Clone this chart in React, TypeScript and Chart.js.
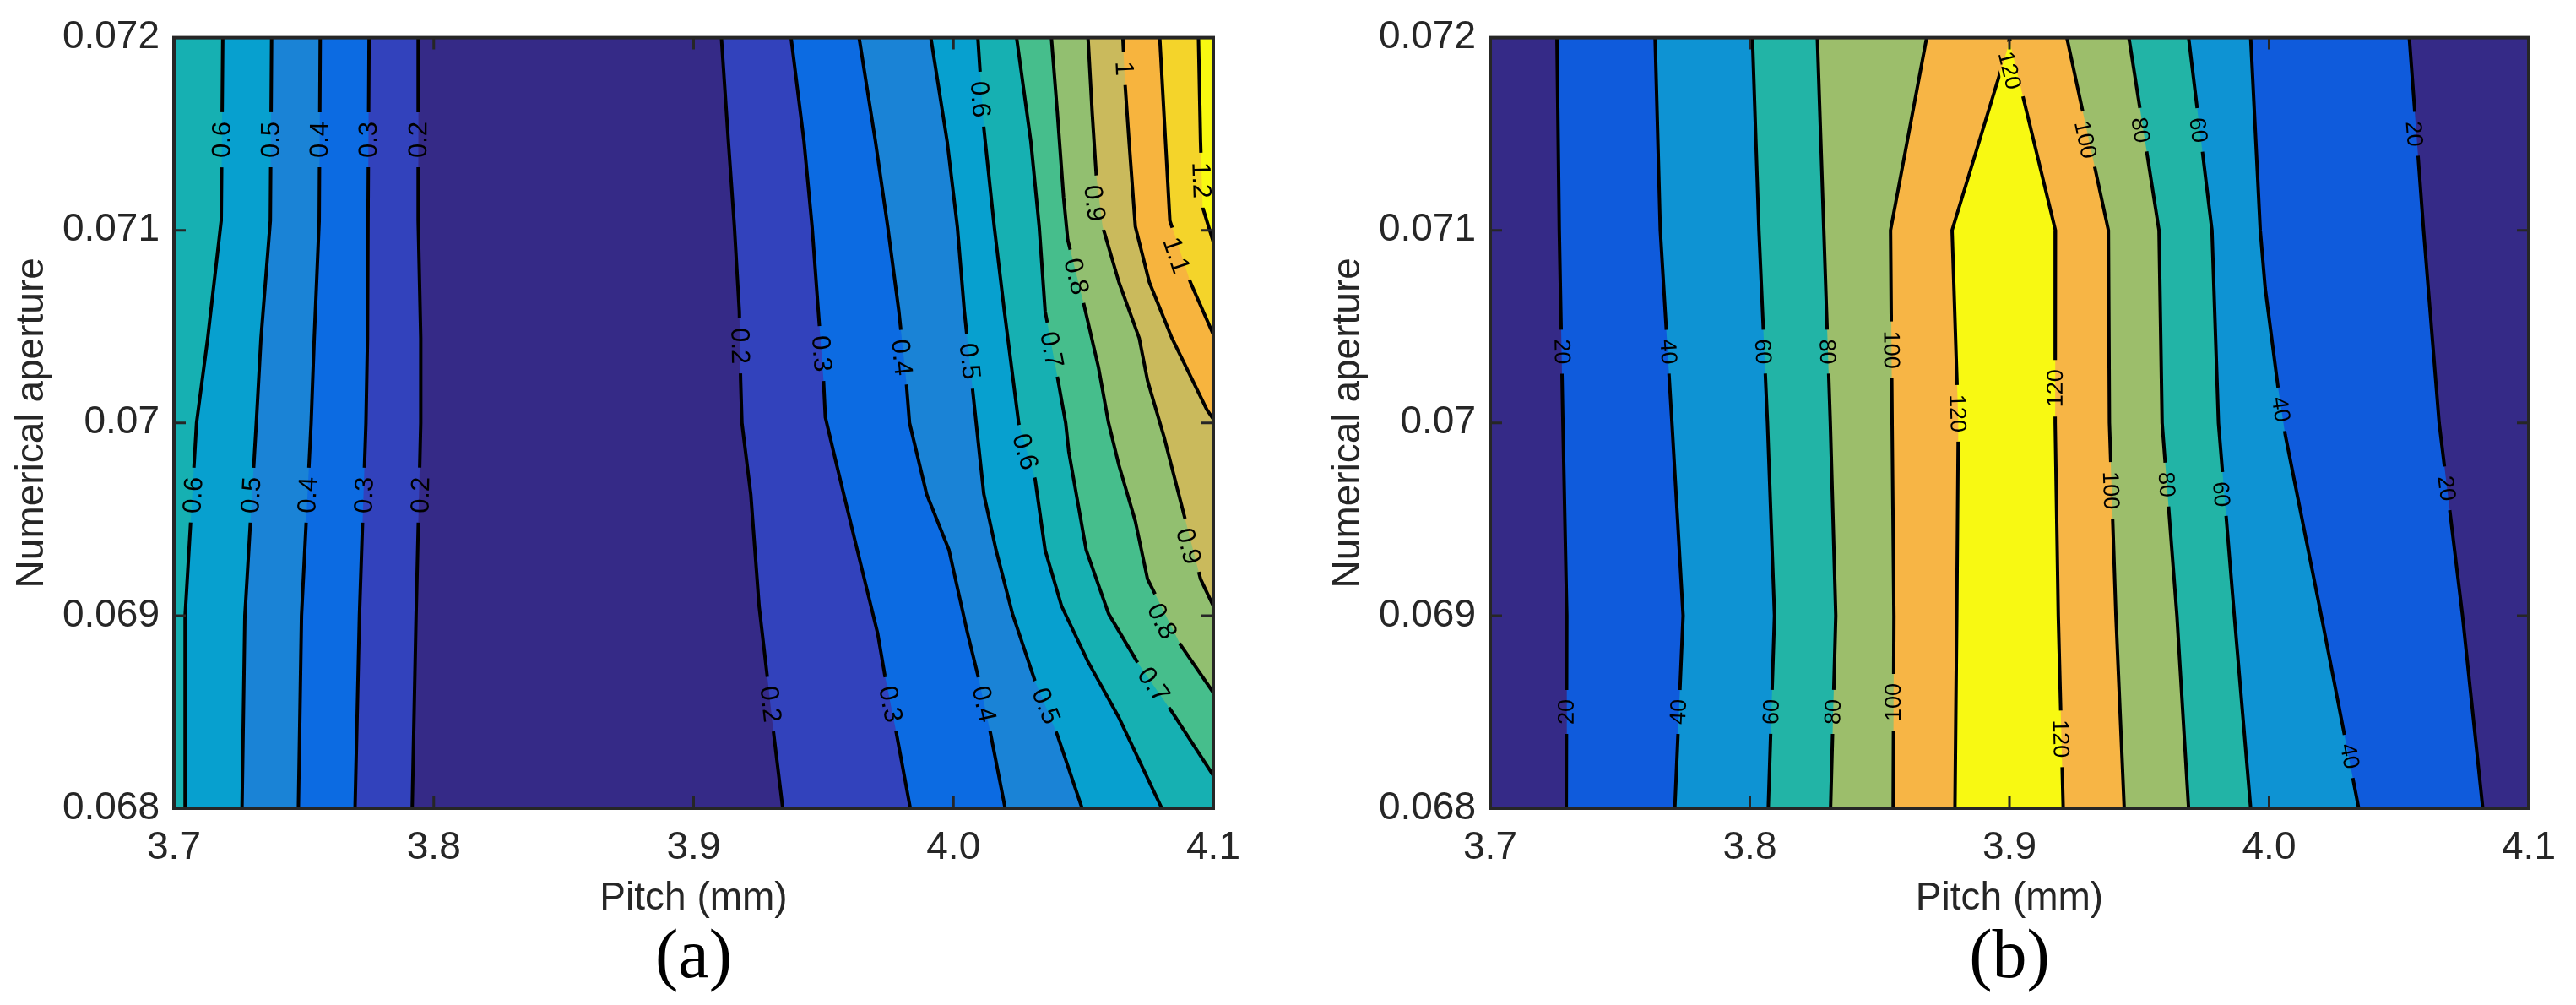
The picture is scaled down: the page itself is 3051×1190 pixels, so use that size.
import React, { useEffect, useRef } from 'react';
import { Chart, registerables } from 'chart.js';

Chart.register(...registerables);

type Pt = [number, number];

// ---------------- axes ----------------
const X_MIN = 3.7;
const X_MAX = 4.1;
const Y_MIN = 0.068;
const Y_MAX = 0.072;
const X_TICKS = [3.7, 3.8, 3.9, 4.0, 4.1];
const X_TICK_TEXT = ['3.7', '3.8', '3.9', '4.0', '4.1'];
const Y_TICKS = [0.068, 0.069, 0.07, 0.071, 0.072];
const Y_TICK_TEXT = ['0.068', '0.069', '0.07', '0.071', '0.072'];
const X_TITLE = 'Pitch (mm)';
const Y_TITLE = 'Numerical aperture';

// ---------------- panel (a) ----------------
const A_LEVELS = ['0.2', '0.3', '0.4', '0.5', '0.6', '0.7', '0.8', '0.9', '1', '1.1', '1.2'];
const A_BANDS = ['#352A87', '#3242BC', '#0C6BE2', '#1A83D6', '#07A0CF', '#16B0B2', '#46BE8C', '#92BF70', '#CABA5C', '#F7B43E', '#F4D42A', '#F8F911'];
// contour lines on the left (value rises toward left edge), top -> bottom
const A_L02: Pt[] = [[3.7942, 0.072], [3.794, 0.07105], [3.795, 0.07044], [3.795, 0.07], [3.7932, 0.069], [3.7917, 0.068]];
const A_L03: Pt[] = [[3.7751, 0.072], [3.7747, 0.07105], [3.7745, 0.07044], [3.7739, 0.07], [3.7714, 0.069], [3.7697, 0.068]];
const A_L04: Pt[] = [[3.7563, 0.072], [3.7559, 0.07105], [3.754, 0.07044], [3.7528, 0.07], [3.7491, 0.069], [3.7479, 0.068]];
const A_L05: Pt[] = [[3.7376, 0.072], [3.7371, 0.07105], [3.7335, 0.07044], [3.7317, 0.07], [3.7273, 0.069], [3.7262, 0.068]];
const A_L06: Pt[] = [[3.7188, 0.072], [3.7182, 0.07105], [3.713, 0.07044], [3.7087, 0.07], [3.7043, 0.069], [3.7043, 0.068]];
// contour lines on the right (value rises toward right edge), top -> bottom/right edge
const A_R02: Pt[] = [[3.9107, 0.072], [3.9134, 0.07146], [3.9157, 0.07102], [3.9176, 0.07058], [3.9181, 0.07022], [3.9186, 0.07], [3.922, 0.06963], [3.9252, 0.06905], [3.9283, 0.06869], [3.9307, 0.0684], [3.9343, 0.068]];
const A_R03: Pt[] = [[3.9375, 0.072], [3.9425, 0.07146], [3.9456, 0.07102], [3.948, 0.07058], [3.95, 0.07022], [3.9507, 0.07003], [3.9551, 0.06978], [3.963, 0.06934], [3.9708, 0.06891], [3.9736, 0.06869], [3.9779, 0.0684], [3.9834, 0.068]];
const A_R04: Pt[] = [[3.9637, 0.072], [3.97, 0.07146], [3.9747, 0.07102], [3.979, 0.07058], [3.9818, 0.07022], [3.9831, 0.07], [3.9897, 0.06963], [3.9983, 0.06934], [4.0054, 0.06891], [4.0094, 0.06869], [4.0141, 0.0684], [4.0199, 0.068]];
const A_R05: Pt[] = [[3.9913, 0.072], [3.9976, 0.07146], [4.0015, 0.07102], [4.0042, 0.07058], [4.007, 0.07022], [4.0117, 0.06963], [4.0164, 0.06934], [4.0227, 0.06901], [4.0314, 0.06866], [4.04, 0.06838], [4.0495, 0.068]];
const A_R06: Pt[] = [[4.0094, 0.072], [4.0117, 0.07153], [4.0157, 0.07102], [4.0196, 0.07058], [4.0251, 0.07], [4.0314, 0.06971], [4.0353, 0.06934], [4.0416, 0.06905], [4.0518, 0.06876], [4.0637, 0.06847], [4.0802, 0.068]];
const A_R07: Pt[] = [[4.0243, 0.072], [4.0298, 0.07146], [4.033, 0.07102], [4.0353, 0.07058], [4.04, 0.07024], [4.0432, 0.07], [4.0444, 0.06985], [4.0511, 0.06934], [4.0597, 0.06901], [4.0707, 0.06876], [4.0841, 0.0685], [4.1, 0.06817]];
const A_R08: Pt[] = [[4.0377, 0.072], [4.04, 0.07161], [4.0424, 0.07117], [4.044, 0.07095], [4.0503, 0.07061], [4.0558, 0.07029], [4.0597, 0.07], [4.0637, 0.06978], [4.07, 0.06949], [4.0747, 0.06919], [4.0873, 0.06885], [4.1, 0.0686]];
const A_R09: Pt[] = [[4.0518, 0.072], [4.0534, 0.07161], [4.055, 0.07128], [4.0574, 0.07102], [4.0637, 0.07073], [4.0715, 0.07044], [4.0747, 0.07022], [4.081, 0.06993], [4.0888, 0.06952], [4.0951, 0.06919], [4.1, 0.06905]];
const A_R10: Pt[] = [[4.0652, 0.072], [4.066, 0.07177], [4.0676, 0.07146], [4.07, 0.07102], [4.0754, 0.07073], [4.0841, 0.07044], [4.0975, 0.07007], [4.1, 0.07002]];
const A_R11: Pt[] = [[4.0794, 0.072], [4.081, 0.07161], [4.0833, 0.07105], [4.0912, 0.07073], [4.1, 0.07046]];
const A_R12: Pt[] = [[4.0943, 0.072], [4.0951, 0.07146], [4.0959, 0.07112], [4.1, 0.07094]];
// contour label anchor points
const A_LABELS: Pt[] = [
  [3.7185, 0.07147], [3.7373, 0.07147], [3.7561, 0.07147], [3.7749, 0.07147], [3.7941, 0.07147],
  [3.7075, 0.069625], [3.7298, 0.069625], [3.7516, 0.069625], [3.7733, 0.069625], [3.795, 0.069625],
  [3.9178, 0.0704], [3.9295, 0.06854], [3.9492, 0.07036], [3.9757, 0.06854],
  [3.98, 0.07034], [4.0117, 0.06854], [4.0062, 0.07032], [4.0355, 0.06853],
  [4.0102, 0.07168], [4.0275, 0.06985], [4.0377, 0.07038], [4.077, 0.06864],
  [4.0472, 0.07076], [4.0802, 0.06897], [4.0542, 0.07114], [4.0904, 0.06936],
  [4.0656, 0.07184], [4.0857, 0.07087], [4.0953, 0.07126],
];

// ---------------- panel (b) ----------------
const B_LEVELS = ['20', '40', '60', '80', '100', '120'];
const B_BANDS = ['#352A87', '#0F5BDC', '#0E93D3', '#22B4A6', '#9CBE6B', '#F7B545', '#F8F912'];
// rising side (left), top -> bottom
const B_L20: Pt[] = [[3.7257, 0.072], [3.7266, 0.071], [3.728, 0.07], [3.7295, 0.069], [3.7293, 0.068]];
const B_L40: Pt[] = [[3.7635, 0.072], [3.7655, 0.071], [3.77, 0.07], [3.7743, 0.069], [3.7711, 0.068]];
const B_L60: Pt[] = [[3.801, 0.072], [3.8035, 0.071], [3.8068, 0.07], [3.8095, 0.069], [3.8071, 0.068]];
const B_L80: Pt[] = [[3.826, 0.072], [3.8285, 0.071], [3.831, 0.07], [3.8331, 0.069], [3.8311, 0.068]];
const B_L100: Pt[] = [[3.8681, 0.072], [3.8542, 0.071], [3.8548, 0.07], [3.8555, 0.069], [3.8552, 0.068]];
// peak contour (bottom-left -> top -> bottom-right)
const B_C120: Pt[] = [[3.879, 0.068], [3.8797, 0.069], [3.8803, 0.07], [3.8779, 0.071], [3.8994, 0.07195], [3.9, 0.072], [3.9006, 0.07195], [3.9177, 0.071], [3.9176, 0.07], [3.9188, 0.069], [3.9207, 0.068]];
// falling side (right), top -> bottom
const B_R100: Pt[] = [[3.9221, 0.072], [3.9381, 0.071], [3.9385, 0.07], [3.941, 0.069], [3.9442, 0.068]];
const B_R80: Pt[] = [[3.946, 0.072], [3.9576, 0.071], [3.9588, 0.07], [3.9645, 0.069], [3.969, 0.068]];
const B_R60: Pt[] = [[3.969, 0.072], [3.978, 0.071], [3.9805, 0.07], [3.9866, 0.069], [3.9929, 0.068]];
const B_R40: Pt[] = [[3.9929, 0.072], [3.9966, 0.071], [3.9985, 0.0707], [4.0035, 0.07018], [4.0062, 0.06994], [4.0201, 0.069], [4.0345, 0.068]];
const B_R20: Pt[] = [[4.054, 0.072], [4.0595, 0.071], [4.0655, 0.07], [4.0745, 0.069], [4.0823, 0.068]];
const B_LABELS: Pt[] = [
  [3.7276, 0.07037], [3.7686, 0.07037], [3.805, 0.07037], [3.8298, 0.07037], [3.8545, 0.07038],
  [3.7294, 0.0685], [3.7725, 0.0685], [3.8083, 0.0685], [3.8321, 0.0685], [3.8553, 0.06855],
  [3.9, 0.07183], [3.88, 0.07005], [3.9177, 0.07018], [3.9197, 0.06836],
  [3.9292, 0.07147], [3.939, 0.06965], [3.9504, 0.07152], [3.9605, 0.06968],
  [3.9727, 0.07152], [3.9815, 0.06963], [4.0045, 0.07007], [4.031, 0.06827],
  [4.0558, 0.0715], [4.0683, 0.06966],
];

// ---------------- styling ----------------
const AXIS_COLOR = '#262626';
const SANS = '"Liberation Sans", Arial, Helvetica, sans-serif';
const SERIF = '"Liberation Serif", "Times New Roman", serif';

interface ContourLine { text: string; pts: Pt[] }
interface Region { pts: Pt[]; color: string }
interface Panel { lines: ContourLine[]; regions: Region[]; labels: Pt[]; labelSize: number; caption: string }

const FRAME: Pt[] = [[X_MIN, Y_MIN], [X_MIN, Y_MAX], [X_MAX, Y_MAX], [X_MAX, Y_MIN]];

function buildPanelA(): Panel {
  const left = [A_L02, A_L03, A_L04, A_L05, A_L06];
  const right = [A_R02, A_R03, A_R04, A_R05, A_R06, A_R07, A_R08, A_R09, A_R10, A_R11, A_R12];
  const regions: Region[] = [{ pts: FRAME, color: A_BANDS[0] }];
  const lines: ContourLine[] = [];
  A_LEVELS.forEach((text, k) => {
    const color = A_BANDS[k + 1];
    const l = left[k];
    if (l) {
      regions.push({ pts: [...l, [X_MIN, Y_MIN], [X_MIN, Y_MAX]], color });
      lines.push({ text, pts: l });
    }
    const r = right[k];
    const end = r[r.length - 1];
    const close: Pt[] = end[1] <= Y_MIN + 1e-9 ? [[X_MAX, Y_MIN], [X_MAX, Y_MAX]] : [[X_MAX, Y_MAX]];
    regions.push({ pts: [...r, ...close], color });
    lines.push({ text, pts: r });
  });
  return { lines, regions, labels: A_LABELS, labelSize: 31, caption: '(a)' };
}

function buildPanelB(): Panel {
  const left = [B_L20, B_L40, B_L60, B_L80, B_L100];
  const right = [B_R20, B_R40, B_R60, B_R80, B_R100];
  const regions: Region[] = [{ pts: FRAME, color: B_BANDS[0] }];
  const lines: ContourLine[] = [];
  B_LEVELS.forEach((text, k) => {
    const color = B_BANDS[k + 1];
    if (k < left.length) {
      regions.push({ pts: [...left[k].slice().reverse(), ...right[k]], color });
      lines.push({ text, pts: left[k] });
      lines.push({ text, pts: right[k] });
    } else {
      regions.push({ pts: B_C120, color });
      lines.push({ text, pts: B_C120 });
    }
  });
  return { lines, regions, labels: B_LABELS, labelSize: 27, caption: '(b)' };
}

const PANEL_A = buildPanelA();
const PANEL_B = buildPanelB();

function segDist(px: number, py: number, a: number[], b: number[]) {
  const dx = b[0] - a[0];
  const dy = b[1] - a[1];
  const L2 = dx * dx + dy * dy;
  let t = L2 ? ((px - a[0]) * dx + (py - a[1]) * dy) / L2 : 0;
  t = Math.max(0, Math.min(1, t));
  return Math.hypot(px - (a[0] + t * dx), py - (a[1] + t * dy));
}

interface Geom { yAxisWidth: number; yTitlePad: number; rightPad: number }

function createChart(canvas: HTMLCanvasElement, panel: Panel, geom: Geom) {
  const datasets: any[] = [];
  panel.regions.forEach((r, i) => {
    datasets.push({
      data: r.pts.map(([x, y]) => ({ x, y })),
      backgroundColor: r.color,
      borderColor: 'rgba(0,0,0,0)',
      borderWidth: 0,
      pointRadius: 0,
      fill: 'shape',
      tension: 0,
      order: 1000 - i,
    });
  });
  panel.lines.forEach((l) => {
    datasets.push({
      data: l.pts.map(([x, y]) => ({ x, y })),
      borderColor: '#000000',
      borderWidth: 4,
      borderJoinStyle: 'round',
      pointRadius: 0,
      fill: false,
      tension: 0,
      order: 0,
      contourText: l.text,
    });
  });

  const clipped = new Set<number>();
  let placed: any[] = [];

  const decor = {
    id: 'contourDecor',
    beforeDatasetsDraw(chart: any) {
      const xs = chart.scales.x;
      const ys = chart.scales.y;
      const ctx = chart.ctx;
      ctx.save();
      ctx.font = `${panel.labelSize}px ${SANS}`;
      placed = panel.labels.map(([lx, ly]) => {
        const px = xs.getPixelForValue(lx);
        const py = ys.getPixelForValue(ly);
        let best = { d: Infinity, ds: -1, ang: 0 };
        chart.data.datasets.forEach((ds: any, i: number) => {
          if (!ds.contourText) return;
          const pts = ds.data.map((p: any) => [xs.getPixelForValue(p.x), ys.getPixelForValue(p.y)]);
          for (let j = 0; j < pts.length - 1; j++) {
            const d = segDist(px, py, pts[j], pts[j + 1]);
            if (d < best.d) {
              best = { d, ds: i, ang: Math.atan2(pts[j + 1][1] - pts[j][1], pts[j + 1][0] - pts[j][0]) };
            }
          }
        });
        let a = best.ang;
        if (a > Math.PI / 2) a -= Math.PI;
        if (a < -Math.PI / 2) a += Math.PI;
        const text = chart.data.datasets[best.ds].contourText as string;
        const w = ctx.measureText(text).width;
        return { px, py, a, ds: best.ds, text, w };
      });
      ctx.restore();
    },
    beforeDatasetDraw(chart: any, args: any) {
      const ds = chart.data.datasets[args.index];
      if (!ds || !ds.contourText) return;
      const labs = placed.filter((l) => l.ds === args.index);
      if (!labs.length) return;
      const ctx = chart.ctx;
      ctx.save();
      ctx.beginPath();
      ctx.rect(0, 0, chart.width, chart.height);
      for (const l of labs) {
        const hl = l.w / 2 + 11;
        const hw = 12;
        const c = Math.cos(l.a);
        const s = Math.sin(l.a);
        const corners = [[-hl, -hw], [hl, -hw], [hl, hw], [-hl, hw]].map(([u, v]) => [l.px + u * c - v * s, l.py + u * s + v * c]);
        ctx.moveTo(corners[0][0], corners[0][1]);
        for (let k = 1; k < 4; k++) ctx.lineTo(corners[k][0], corners[k][1]);
        ctx.closePath();
      }
      ctx.clip('evenodd');
      clipped.add(args.index);
    },
    afterDatasetDraw(chart: any, args: any) {
      if (clipped.has(args.index)) {
        chart.ctx.restore();
        clipped.delete(args.index);
      }
    },
    afterDatasetsDraw(chart: any) {
      const ctx = chart.ctx;
      const xs = chart.scales.x;
      const ys = chart.scales.y;
      // contour labels
      ctx.save();
      ctx.font = `${panel.labelSize}px ${SANS}`;
      ctx.fillStyle = '#000000';
      ctx.textAlign = 'center';
      ctx.textBaseline = 'middle';
      for (const l of placed) {
        ctx.save();
        ctx.translate(l.px, l.py);
        ctx.rotate(l.a);
        ctx.fillText(l.text, 0, 1);
        ctx.restore();
      }
      ctx.restore();
      // frame and inward ticks
      const { left, right, top, bottom } = chart.chartArea;
      ctx.save();
      ctx.strokeStyle = AXIS_COLOR;
      ctx.lineWidth = 3;
      const tl = 14;
      ctx.beginPath();
      for (const v of X_TICKS) {
        const p = xs.getPixelForValue(v);
        ctx.moveTo(p, bottom);
        ctx.lineTo(p, bottom - tl);
        ctx.moveTo(p, top);
        ctx.lineTo(p, top + tl);
      }
      for (const v of Y_TICKS) {
        const p = ys.getPixelForValue(v);
        ctx.moveTo(left, p);
        ctx.lineTo(left + tl, p);
        ctx.moveTo(right, p);
        ctx.lineTo(right - tl, p);
      }
      ctx.stroke();
      ctx.lineWidth = 4;
      ctx.strokeRect(left, top, right - left, bottom - top);
      ctx.restore();
    },
  };

  const tickFont = { family: SANS, size: 46 };
  const findLabel = (ticks: number[], texts: string[], v: any) => {
    const i = ticks.findIndex((t) => Math.abs(t - Number(v)) < 1e-9);
    return i >= 0 ? texts[i] : '';
  };

  return new Chart(canvas, {
    type: 'line',
    data: { datasets },
    options: {
      animation: false,
      responsive: false,
      devicePixelRatio: 1,
      events: [],
      layout: { padding: { top: 43, right: geom.rightPad, bottom: 14, left: 0 } },
      plugins: {
        legend: { display: false },
        tooltip: { enabled: false },
        title: {
          display: true,
          position: 'bottom',
          fullSize: false,
          text: panel.caption,
          color: '#000000',
          font: { family: SERIF, size: 82, weight: 'normal', lineHeight: 1 },
          padding: { top: 0, bottom: 0 },
        },
      },
      scales: {
        x: {
          type: 'linear',
          min: X_MIN,
          max: X_MAX,
          grid: { display: false, drawTicks: false },
          border: { display: false },
          afterBuildTicks: (s: any) => { s.ticks = X_TICKS.map((value) => ({ value })); },
          afterFit: (s: any) => { s.height = 137; },
          ticks: {
            font: tickFont,
            color: AXIS_COLOR,
            padding: 20,
            autoSkip: false,
            maxRotation: 0,
            minRotation: 0,
            callback: (v: any) => findLabel(X_TICKS, X_TICK_TEXT, v),
          },
          title: {
            display: true,
            text: X_TITLE,
            color: AXIS_COLOR,
            font: { family: SANS, size: 46 },
            padding: { top: 0, bottom: 2 },
          },
        },
        y: {
          type: 'linear',
          min: Y_MIN,
          max: Y_MAX,
          grid: { display: false, drawTicks: false },
          border: { display: false },
          afterBuildTicks: (s: any) => { s.ticks = Y_TICKS.map((value) => ({ value })); },
          afterFit: (s: any) => { s.width = geom.yAxisWidth; },
          ticks: {
            font: tickFont,
            color: AXIS_COLOR,
            padding: 17,
            autoSkip: false,
            callback: (v: any) => findLabel(Y_TICKS, Y_TICK_TEXT, v),
          },
          title: {
            display: true,
            text: Y_TITLE,
            color: AXIS_COLOR,
            font: { family: SANS, size: 46 },
            padding: { top: geom.yTitlePad, bottom: 0 },
          },
        },
      },
    } as any,
    plugins: [decor as any],
  });
}

function ContourPanel({ panel, width, geom }: { panel: Panel; width: number; geom: Geom }) {
  const ref = useRef<HTMLCanvasElement | null>(null);
  useEffect(() => {
    if (!ref.current) return;
    const chart = createChart(ref.current, panel, geom);
    return () => chart.destroy();
  }, [panel, geom]);
  return <canvas ref={ref} width={width} height={1190} style={{ display: 'block', width, height: 1190 }} />;
}

const GEOM_A: Geom = { yAxisWidth: 206, yTitlePad: 11, rightPad: 88 };
const GEOM_B: Geom = { yAxisWidth: 240, yTitlePad: 45, rightPad: 56 };

export default function App() {
  return (
    <div style={{ position: 'absolute', left: 0, top: 0, width: 3051, height: 1190, display: 'flex', background: '#ffffff' }}>
      <ContourPanel panel={PANEL_A} width={1525} geom={GEOM_A} />
      <ContourPanel panel={PANEL_B} width={1526} geom={GEOM_B} />
    </div>
  );
}
